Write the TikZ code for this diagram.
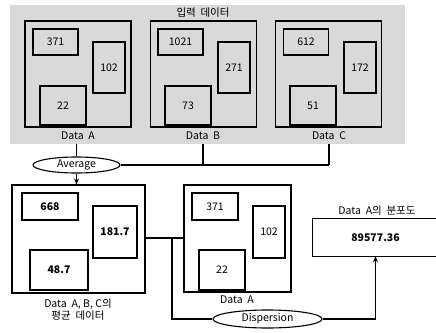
\documentclass[tikz,border=0pt]{standalone}
\usepackage{fontspec}
\setmainfont{Noto Sans CJK KR}
\usetikzlibrary{shapes.geometric,arrows.meta}

\definecolor{inputgray}{HTML}{D9D9D9}

\tikzset{
  cell/.style={draw, line width=1.1pt, inner sep=0pt},
  group/.style={draw, line width=1.1pt, inner sep=0pt},
  caption/.style={inner sep=1pt, align=center},
  oper/.style={draw, ellipse, line width=1.1pt, inner sep=0pt},
  wire/.style={line width=1.1pt},
  heavy/.style={font=\fontsize{10.5}{12}\selectfont\bfseries},
}

\begin{document}
\begin{tikzpicture}[x=1pt, y=-1pt, font=\fontsize{10.5}{12}\selectfont]
    \useasboundingbox (0,0) rectangle (436,332);
    % input data
    \node[fill=inputgray, minimum width=395, minimum height=139, inner sep=0pt] (input) at (207.5,74.5) {};
    \node[caption] (title) at (203,13) {입력~~데이터};

    \node[group, minimum width=106, minimum height=106] (dataA) at (78,74) {};
    \node[cell, minimum width=45, minimum height=26] (a1) at (55.5,42) {371};
    \node[cell, minimum width=32, minimum height=51] (a2) at (109,67.5) {102};
    \node[cell, minimum width=46, minimum height=39] (a3) at (63,105.5) {22};
    \node[caption] (labA) at (78,136) {Data~~A};

    \node[group, minimum width=106, minimum height=106] (dataB) at (203.5,74) {};
    \node[cell, minimum width=45, minimum height=26] (b1) at (180.5,42) {1021};
    \node[cell, minimum width=32, minimum height=51] (b2) at (234,67.5) {271};
    \node[cell, minimum width=46, minimum height=39] (b3) at (188,105.5) {73};
    \node[caption] (labB) at (203,136) {Data~~B};

    \node[group, minimum width=106, minimum height=106] (dataC) at (328.5,74) {};
    \node[cell, minimum width=45, minimum height=26] (c1) at (306,42) {612};
    \node[cell, minimum width=32, minimum height=51] (c2) at (360,67.5) {172};
    \node[cell, minimum width=46, minimum height=39] (c3) at (313,105.5) {51};
    \node[caption] (labC) at (329,136) {Data~~C};

    % average
    \node[oper, fill=white, minimum width=87, minimum height=16] (avg) at (76.5,165) {Average};

    \node[group, minimum width=133, minimum height=108] (mean) at (78.5,239) {};
    \node[cell, heavy, minimum width=56, minimum height=27] (m1) at (50,206.5) {668};
    \node[cell, heavy, minimum width=44, minimum height=52] (m2) at (115,232) {181.7};
    \node[cell, heavy, minimum width=58, minimum height=40] (m3) at (59,270) {48.7};
    \node[caption] (labM) at (78,310) {Data~~A, B, C의\\평균~~데이터};

    % data A again
    \node[group, minimum width=107, minimum height=107] (dupA) at (237.5,238.5) {};
    \node[cell, minimum width=46, minimum height=27] (d1) at (215,206.5) {371};
    \node[cell, minimum width=32, minimum height=52] (d2) at (269,232) {102};
    \node[cell, minimum width=46, minimum height=40] (d3) at (222,270) {22};
    \node[caption] (labD) at (237,300) {Data~~A};

    % dispersion
    \node[oper, minimum width=109, minimum height=18] (disp) at (267.5,319) {Dispersion};
    \node[heavy, minimum width=125, minimum height=37, inner sep=0pt] (res) at (375.5,237.5) {89577.36};
    \node[caption] (labR) at (377,211) {Data~~A의~~분포도};
    \draw[wire] (res.north east) -- (res.north west) -- (res.south west) -- (res.south east);

    \draw[wire] (input.south -| avg.north) -- (avg.north);
    \draw[wire] (avg.east) -- (avg.east -| labC.south);
    \draw[wire] (input.south -| labB.south) -- (avg.east -| labB.south);
    \draw[wire] (input.south -| labC.south) -- (avg.east -| labC.south);
    \draw[wire, -{Stealth[length=6pt, width=5pt]}] (avg.south) -- (mean.north -| avg.south);

    \coordinate (split) at (172,238);
    \draw[wire] (mean.east |- split) -- (dupA.west |- split);
    \draw[wire] (split) -- (split |- disp.west) -- (disp.west);
    \draw[wire, -{Stealth[length=6pt, width=5pt]}] (disp.east) -- (disp.east -| res.south) -- (res.south);
\end{tikzpicture}
\end{document}
